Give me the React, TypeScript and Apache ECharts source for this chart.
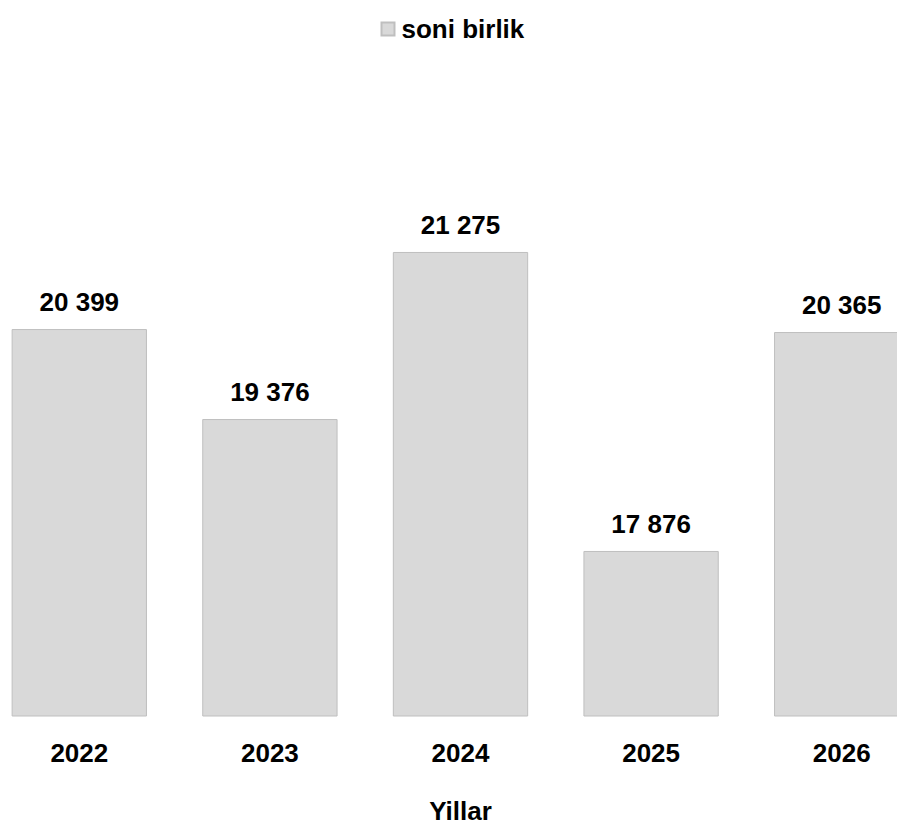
import React, { useEffect, useRef } from "react";
import * as echarts from "echarts";

const categories = ["2022", "2023", "2024", "2025", "2026"];
const values = [20399, 19376, 21275, 17876, 20365];
const seriesName = "soni birlik";
const axisTitle = "Yillar";

const FONT = "'Liberation Sans', Arial, sans-serif";

function fmt(v: number): string {
  return String(v).replace(/\B(?=(\d{3})+(?!\d))/g, " ");
}

export default function App() {
  const ref = useRef<HTMLDivElement>(null);
  useEffect(() => {
    if (!ref.current) return;
    const chart = echarts.init(ref.current, undefined, { renderer: "svg" });
    chart.setOption({
      animation: false,
      backgroundColor: "#ffffff",
      textStyle: { fontFamily: FONT },
      legend: {
        left: 396.5,
        top: 16,
        icon: "rect",
        itemWidth: 13,
        itemHeight: 13,
        itemGap: 10,
        padding: 0,
        textStyle: { fontFamily: FONT, fontSize: 26, fontWeight: "bold", color: "#000000", padding: [0, 0, 0, 2] },
        data: [seriesName],
      },
      grid: {
        left: 0,
        width: 953,
        top: 188.2,
        height: 527.8,
        containLabel: false,
        outerBoundsMode: "none",
      },
      xAxis: {
        type: "category",
        data: categories,
        axisLine: { show: false },
        axisTick: { show: false },
        axisLabel: { fontFamily: FONT, fontSize: 26, fontWeight: "bold", color: "#000000", margin: 24 },
        name: axisTitle,
        nameLocation: "middle",
        nameGap: 83,
        nameTextStyle: { fontFamily: FONT, fontSize: 26, fontWeight: "bold", color: "#000000", lineHeight: 24 },
      },
      yAxis: {
        type: "value",
        min: 16000,
        max: 22000,
        show: false,
        splitLine: { show: false },
      },
      series: [
        {
          name: seriesName,
          type: "bar",
          data: values,
          barCategoryGap: "29%",
          itemStyle: { color: "#d9d9d9", borderColor: "#bfbfbf", borderWidth: 1 },
          label: {
            show: true,
            position: "top",
            distance: 14,
            formatter: (p: any) => fmt(p.value),
            fontFamily: FONT,
            fontSize: 26,
            fontWeight: "bold",
            color: "#000000",
          },
        },
      ],
    });
    return () => chart.dispose();
  }, []);
  return (
    <div style={{ position: "fixed", left: 0, top: 0, width: 897, height: 824, overflow: "hidden", background: "#fff" }}>
      <div
        ref={ref}
        style={{ position: "absolute", left: -16.5, top: 0, width: 953, height: 824 }}
      />
    </div>
  );
}
